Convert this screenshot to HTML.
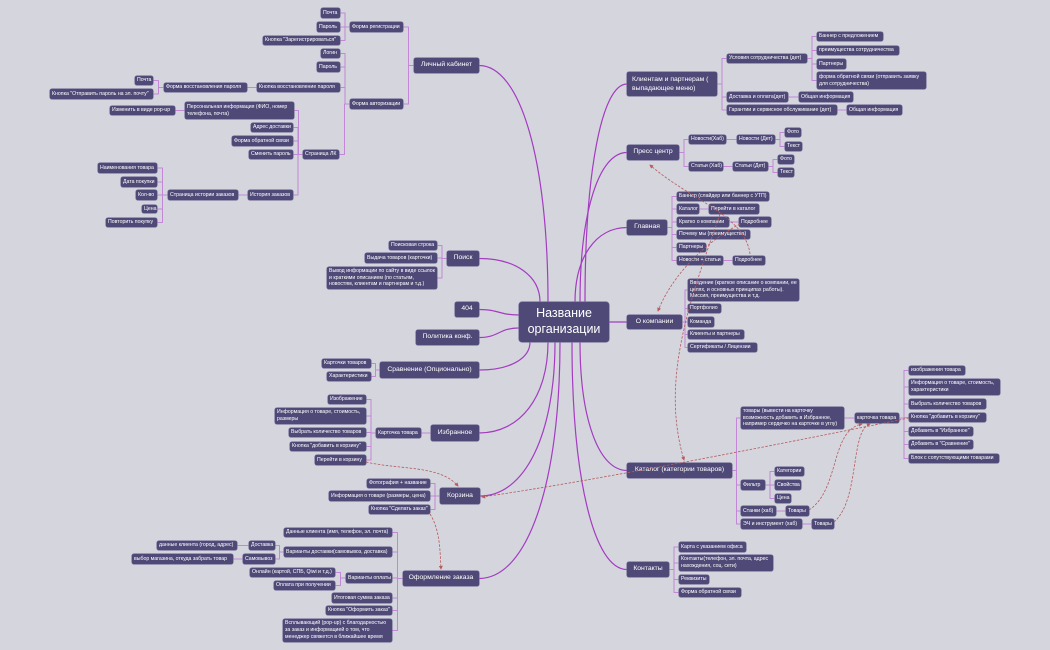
<!DOCTYPE html>
<html><head><meta charset="utf-8"><style>
body{margin:0;background:#d5d5de;width:1050px;height:650px;overflow:hidden;position:relative;font-family:"Liberation Sans",sans-serif}
.b{position:absolute;background:#4f4977;color:#fff;border-radius:2px;font-size:5.2px;line-height:1.3;padding:0 2px;box-sizing:border-box;display:flex;align-items:center;white-space:nowrap;overflow:hidden;box-shadow:0 0 0 0.6px #77729a;z-index:2}
.m{white-space:normal}
.M{font-size:6.8px;padding:0 5px;justify-content:center}
.C{font-size:12.5px;justify-content:center;text-align:center;line-height:1.25;border-radius:3px}
svg{position:absolute;left:0;top:0;z-index:1}
svg.top{z-index:3}
</style></head><body>
<div class="b C" id="c" style="left:519px;top:302px;width:90px;height:40px">Название<br>организации</div>

<div class="b M" id="L1" style="left:414px;top:58px;width:65px;height:15px">Личный кабинет</div>
<div class="b" id="r1" style="left:350px;top:22px;width:53px;height:10px">Форма регистрации</div>
<div class="b" id="r1a" style="left:321px;top:8px;width:19px;height:10px">Почта</div>
<div class="b" id="r1b" style="left:317px;top:22px;width:23px;height:10px">Пароль</div>
<div class="b" id="r1c" style="left:263px;top:36px;width:77px;height:9px">Кнопка "Зарегистрироваться"</div>
<div class="b" id="r2" style="left:350px;top:99px;width:53px;height:10px">Форма авторизации</div>
<div class="b" id="r2a" style="left:321px;top:49px;width:19px;height:9px">Логин</div>
<div class="b" id="r2b" style="left:317px;top:62px;width:23px;height:10px">Пароль</div>
<div class="b" id="r2c" style="left:257px;top:83px;width:83px;height:9px">Кнопка восстановление пароля</div>
<div class="b" id="r2c1" style="left:164px;top:83px;width:83px;height:9px">Форма восстановления пароля</div>
<div class="b" id="r2c1a" style="left:135px;top:76px;width:18px;height:9px">Почта</div>
<div class="b" id="r2c1b" style="left:50px;top:89px;width:103px;height:10px">Кнопка "Отправить пароль на эл. почту"</div>
<div class="b" id="r2d" style="left:303px;top:150px;width:36px;height:9px">Страница ЛК</div>
<div class="b m" id="p1" style="left:185px;top:102px;width:109px;height:17px">Персональная информация (ФИО, номер телефона, почта)</div>
<div class="b" id="p1a" style="left:110px;top:106px;width:65px;height:9px">Изменить в виде pop-up</div>
<div class="b" id="p2" style="left:251px;top:123px;width:42px;height:9px">Адрес доставки</div>
<div class="b" id="p3" style="left:232px;top:136px;width:61px;height:10px">Форма обратной связи</div>
<div class="b" id="p4" style="left:249px;top:150px;width:44px;height:9px">Сменить пароль</div>
<div class="b" id="p5" style="left:248px;top:190px;width:45px;height:10px">История заказов</div>
<div class="b" id="p5a" style="left:168px;top:190px;width:70px;height:10px">Страница истории заказов</div>
<div class="b" id="h1" style="left:98px;top:163px;width:59px;height:10px">Наименования товара</div>
<div class="b" id="h2" style="left:121px;top:177px;width:36px;height:10px">Дата покупки</div>
<div class="b" id="h3" style="left:136px;top:190px;width:21px;height:10px">Кол-во</div>
<div class="b" id="h4" style="left:142px;top:205px;width:15px;height:8px">Цена</div>
<div class="b" id="h5" style="left:106px;top:218px;width:51px;height:9px">Повторить покупку</div>

<div class="b M" id="S" style="left:447px;top:251px;width:32px;height:15px">Поиск</div>
<div class="b" id="s1" style="left:389px;top:241px;width:48px;height:9px">Поисковая строка</div>
<div class="b" id="s2" style="left:365px;top:253px;width:72px;height:10px">Выдача товаров (карточки)</div>
<div class="b m" id="s3" style="left:327px;top:267px;width:110px;height:22px">Вывод информации по сайту в виде ссылок и краткими описанием (по статьям, новостям, клиентам и партнерам и т.д.)</div>
<div class="b M" id="E" style="left:455px;top:302px;width:24px;height:15px">404</div>
<div class="b M" id="P" style="left:416px;top:330px;width:63px;height:15px">Политика конф.</div>
<div class="b M" id="CM" style="left:380px;top:362px;width:99px;height:16px">Сравнение (Опционально)</div>
<div class="b" id="cm1" style="left:322px;top:359px;width:49px;height:9px">Карточки товаров</div>
<div class="b" id="cm2" style="left:327px;top:372px;width:44px;height:9px">Характеристики</div>
<div class="b M" id="F" style="left:431px;top:425px;width:48px;height:16px">Избранное</div>
<div class="b" id="f1" style="left:376px;top:428px;width:45px;height:10px">Карточка товара</div>
<div class="b" id="f1a" style="left:328px;top:395px;width:38px;height:9px">Изображение</div>
<div class="b m" id="f1b" style="left:275px;top:408px;width:91px;height:16px">Информация о товаре, стоимость, размеры</div>
<div class="b" id="f1c" style="left:289px;top:428px;width:77px;height:9px">Выбрать количество товаров</div>
<div class="b" id="f1d" style="left:290px;top:442px;width:76px;height:9px">Кнопка "добавить в корзину"</div>
<div class="b" id="f1e" style="left:315px;top:455px;width:51px;height:10px">Перейти в корзину</div>
<div class="b M" id="K" style="left:440px;top:488px;width:40px;height:16px">Корзина</div>
<div class="b" id="k1" style="left:367px;top:479px;width:63px;height:9px">Фотография + название</div>
<div class="b" id="k2" style="left:329px;top:491px;width:101px;height:10px">Информация о товаре (размеры, цена)</div>
<div class="b" id="k3" style="left:369px;top:505px;width:61px;height:9px">Кнопка "Сделать заказ"</div>
<div class="b M" id="O" style="left:403px;top:571px;width:76px;height:15px">Оформление заказа</div>
<div class="b" id="o1" style="left:284px;top:528px;width:108px;height:9px">Данные клиента (имя, телефон, эл. почта)</div>
<div class="b" id="o2" style="left:284px;top:547px;width:108px;height:10px">Варианты доставки(самовывоз, доставка)</div>
<div class="b" id="o2a" style="left:249px;top:541px;width:26px;height:9px">Доставка</div>
<div class="b" id="o2b" style="left:243px;top:554px;width:32px;height:10px">Самовывоз</div>
<div class="b" id="o2a1" style="left:157px;top:541px;width:80px;height:9px">данные клиента (город, адрес)</div>
<div class="b" id="o2b1" style="left:132px;top:554px;width:101px;height:10px">выбор магазина, откуда забрать товар</div>
<div class="b" id="o3" style="left:346px;top:573px;width:46px;height:10px">Варианты оплаты</div>
<div class="b" id="o3a" style="left:250px;top:568px;width:85px;height:9px">Онлайн (картой, СПБ, Qiwi и т.д.)</div>
<div class="b" id="o3b" style="left:274px;top:581px;width:61px;height:9px">Оплата при получении</div>
<div class="b" id="o4" style="left:332px;top:593px;width:60px;height:10px">Итоговая сумма заказа</div>
<div class="b" id="o5" style="left:326px;top:606px;width:66px;height:9px">Кнопка "Оформить заказ"</div>
<div class="b m" id="o6" style="left:283px;top:619px;width:109px;height:23px">Всплывающий (pop-up) с благодарностью за заказ и информацией о том, что менеджер свяжется в ближайшее время</div>

<div class="b M m" id="R1" style="left:627px;top:72px;width:90px;height:24px;line-height:1.35;justify-content:flex-start">Клиентам и партнерам ( выпадающее меню)</div>
<div class="b" id="u1" style="left:727px;top:54px;width:80px;height:9px">Условия сотрудничества (дет)</div>
<div class="b" id="u1a" style="left:817px;top:32px;width:66px;height:9px">Баннер с предложением</div>
<div class="b" id="u1b" style="left:817px;top:46px;width:82px;height:9px">преимущества сотрудничества</div>
<div class="b" id="u1c" style="left:817px;top:59px;width:29px;height:10px">Партнеры</div>
<div class="b m" id="u1d" style="left:817px;top:72px;width:109px;height:17px">форма обратной связи (отправить заявку для сотрудничества)</div>
<div class="b" id="u2" style="left:727px;top:92px;width:61px;height:10px">Доставка и оплата(дет)</div>
<div class="b" id="u2a" style="left:799px;top:92px;width:54px;height:10px">Общая информация</div>
<div class="b" id="u3" style="left:727px;top:105px;width:110px;height:10px">Гарантии и сервисное обслуживание (дет)</div>
<div class="b" id="u3a" style="left:847px;top:105px;width:55px;height:10px">Общая информация</div>
<div class="b M" id="R2" style="left:627px;top:145px;width:52px;height:15px">Пресс центр</div>
<div class="b" id="n1" style="left:689px;top:135px;width:37px;height:9px">Новости(Хаб)</div>
<div class="b" id="n1a" style="left:737px;top:135px;width:38px;height:9px">Новости (Дет)</div>
<div class="b" id="n1a1" style="left:785px;top:128px;width:16px;height:9px">Фото</div>
<div class="b" id="n1a2" style="left:785px;top:142px;width:17px;height:9px">Текст</div>
<div class="b" id="n2" style="left:689px;top:162px;width:34px;height:9px">Статьи (Хаб)</div>
<div class="b" id="n2a" style="left:733px;top:162px;width:35px;height:9px">Статьи (Дет)</div>
<div class="b" id="n2a1" style="left:778px;top:155px;width:16px;height:9px">Фото</div>
<div class="b" id="n2a2" style="left:778px;top:168px;width:16px;height:9px">Текст</div>
<div class="b M" id="R3" style="left:627px;top:220px;width:40px;height:15px">Главная</div>
<div class="b" id="g1" style="left:677px;top:192px;width:92px;height:9px">Баннер (слайдер или баннер с УТП)</div>
<div class="b" id="g2" style="left:677px;top:204px;width:22px;height:10px">Каталог</div>
<div class="b" id="g2a" style="left:709px;top:204px;width:50px;height:10px">Перейти в каталог</div>
<div class="b" id="g3" style="left:677px;top:217px;width:52px;height:10px">Кратко о компании</div>
<div class="b" id="g3a" style="left:739px;top:217px;width:32px;height:10px">Подробнее</div>
<div class="b" id="g4" style="left:677px;top:230px;width:73px;height:9px">Почему мы (преимущества)</div>
<div class="b" id="g5" style="left:677px;top:243px;width:29px;height:9px">Партнеры</div>
<div class="b" id="g6" style="left:677px;top:256px;width:46px;height:9px">Новости + статьи</div>
<div class="b" id="g6a" style="left:733px;top:256px;width:32px;height:9px">Подробнее</div>
<div class="b M" id="R4" style="left:627px;top:315px;width:55px;height:14px">О компании</div>
<div class="b m" id="a1" style="left:688px;top:279px;width:111px;height:22px">Введение (краткое описание о компании, ее целях, и основных принципах работы). Миссия, преимущества и т.д.</div>
<div class="b" id="a2" style="left:688px;top:304px;width:33px;height:9px">Портфолио</div>
<div class="b" id="a3" style="left:688px;top:317px;width:26px;height:10px">Команда</div>
<div class="b" id="a4" style="left:688px;top:330px;width:56px;height:9px">Клиенты и партнеры</div>
<div class="b" id="a5" style="left:688px;top:343px;width:69px;height:9px">Сертификаты / Лицензии</div>
<div class="b M" id="R5" style="left:627px;top:463px;width:105px;height:15px">Каталог (категории товаров)</div>
<div class="b m" id="t1" style="left:741px;top:407px;width:103px;height:22px">товары (вывести на карточку возможность добавить в Избранное, например сердечко на карточке в углу)</div>
<div class="b" id="t1a" style="left:855px;top:413px;width:44px;height:10px">карточка товара</div>
<div class="b" id="q1" style="left:909px;top:366px;width:56px;height:9px">изображения товара</div>
<div class="b m" id="q2" style="left:909px;top:379px;width:91px;height:16px">Информация о товаре, стоимость, характеристики</div>
<div class="b" id="q3" style="left:909px;top:399px;width:77px;height:10px">Выбрать количество товаров</div>
<div class="b" id="q4" style="left:909px;top:413px;width:77px;height:9px">Кнопка "добавить в корзину"</div>
<div class="b" id="q5" style="left:909px;top:427px;width:64px;height:9px">Добавить в "Избранное"</div>
<div class="b" id="q6" style="left:909px;top:440px;width:64px;height:9px">Добавить в "Сравнение"</div>
<div class="b" id="q7" style="left:909px;top:454px;width:90px;height:9px">Блок с сопутствующими товарами</div>
<div class="b" id="t2" style="left:741px;top:480px;width:24px;height:10px">Фильтр</div>
<div class="b" id="t2a" style="left:775px;top:467px;width:29px;height:9px">Категории</div>
<div class="b" id="t2b" style="left:775px;top:480px;width:26px;height:10px">Свойства</div>
<div class="b" id="t2c" style="left:775px;top:494px;width:16px;height:9px">Цена</div>
<div class="b" id="t3" style="left:741px;top:506px;width:35px;height:10px">Станки (хаб)</div>
<div class="b" id="t3a" style="left:786px;top:506px;width:23px;height:10px">Товары</div>
<div class="b" id="t4" style="left:741px;top:519px;width:61px;height:10px">ЭЧ и инструмент (хаб)</div>
<div class="b" id="t4a" style="left:812px;top:519px;width:22px;height:10px">Товары</div>
<div class="b M" id="R6" style="left:627px;top:562px;width:42px;height:15px">Контакты</div>
<div class="b" id="w1" style="left:679px;top:542px;width:67px;height:10px">Карта с указанием офиса</div>
<div class="b m" id="w2" style="left:679px;top:555px;width:94px;height:16px">Контакты(телефон, эл. почта, адрес нахождения, соц. сети)</div>
<div class="b" id="w3" style="left:679px;top:575px;width:30px;height:9px">Реквизиты</div>
<div class="b" id="w4" style="left:679px;top:588px;width:62px;height:9px">Форма обратной связи</div>

<svg id="sv" width="1050" height="650"></svg>
<svg class="top" width="1050" height="650" fill="none" stroke="#b55a5a" stroke-width="0.8" stroke-dasharray="2.5,1.5">
<defs><marker id="ar" markerWidth="5" markerHeight="5" refX="4" refY="2.5" orient="auto"><path d="M0,0L5,2.5L0,5z" fill="#b55a5a" stroke="none"/></marker></defs>
<path d="M750,254 C745,215 690,200 650,165" marker-end="url(#ar)"/>
<path d="M740,224 C700,245 670,280 658,311" marker-end="url(#ar)"/>
<path d="M720,214 C690,300 660,380 684,460" marker-end="url(#ar)"/>
<path d="M909,418 C800,440 600,480 482,497" marker-end="url(#ar)"/>
<path d="M809,510 C840,490 830,430 862,424" marker-end="url(#ar)"/>
<path d="M834,522 C860,500 850,430 870,424" marker-end="url(#ar)"/>
<path d="M366,462 C400,470 440,465 458,486" marker-end="url(#ar)"/>
<path d="M430,514 C440,530 440,550 441,569" marker-end="url(#ar)"/>
</svg>
<script>
function r(id){var e=document.getElementById(id);return{l:e.offsetLeft,t:e.offsetTop,r:e.offsetLeft+e.offsetWidth,b:e.offsetTop+e.offsetHeight,cx:e.offsetLeft+e.offsetWidth/2,cy:e.offsetTop+e.offsetHeight/2}}
var tree={L1:"r1 r2",r1:"r1a r1b r1c",r2:"r2a r2b r2c r2d",r2c:"r2c1",r2c1:"r2c1a r2c1b",r2d:"p1 p2 p3 p4 p5",p1:"p1a",p5:"p5a",p5a:"h1 h2 h3 h4 h5",
S:"s1 s2 s3",CM:"cm1 cm2",F:"f1",f1:"f1a f1b f1c f1d f1e",K:"k1 k2 k3",O:"o1 o2 o3 o4 o5 o6",o2:"o2a o2b",o2a:"o2a1",o2b:"o2b1",o3:"o3a o3b",
R1:"u1 u2 u3",u1:"u1a u1b u1c u1d",u2:"u2a",u3:"u3a",R2:"n1 n2",n1:"n1a",n1a:"n1a1 n1a2",n2:"n2a",n2a:"n2a1 n2a2",
R3:"g1 g2 g3 g4 g5 g6",g2:"g2a",g3:"g3a",g6:"g6a",R4:"a1 a2 a3 a4 a5",R5:"t1 t2 t3 t4",t1:"t1a",t1a:"q1 q2 q3 q4 q5 q6 q7",t2:"t2a t2b t2c",t3:"t3a",t4:"t4a",R6:"w1 w2 w3 w4"};
var s="";
for(var p in tree){var P=r(p);tree[p].split(" ").forEach(function(c){var C=r(c);var sx,ex,xm;
if(C.cx<P.cx){sx=P.l;ex=C.r;}else{sx=P.r;ex=C.l;}xm=(sx+ex)/2;
s+='<path d="M'+sx+','+P.cy+'H'+xm+'V'+C.cy+'H'+ex+'" stroke="#c486d6" stroke-width="1" fill="none" stroke-linejoin="round"/>';});}
var c=r("c");
var mains={L1:[548,302],S:[540,302],E:[519,315],P:[519,328],CM:[530,342],F:[548,342],K:[555,342],O:[560,342],R1:[585,302],R2:[580,302],R3:[575,302],R4:[609,322],R5:[580,342],R6:[572,342]};
for(var m in mains){var M=r(m),e=mains[m],x1=M.cx<c.cx?M.r:M.l,y1=M.cy,ex=e[0],ey=e[1],d;
if(ex==519||ex==609){d='M'+x1+','+y1+'C'+((x1+ex)/2)+','+y1+' '+((x1+ex)/2)+','+ey+' '+ex+','+ey;}
else{var dir=M.cx<c.cx?1:-1;d='M'+x1+','+y1+'C'+(x1+dir*Math.abs(ex-x1)*0.6)+','+y1+' '+ex+','+(y1+(ey-y1)*0.4)+' '+ex+','+ey;}
s+='<path d="'+d+'" stroke="#a33cc0" stroke-width="1.2" fill="none"/>';}
document.getElementById("sv").innerHTML=s;
</script>
</body></html>
